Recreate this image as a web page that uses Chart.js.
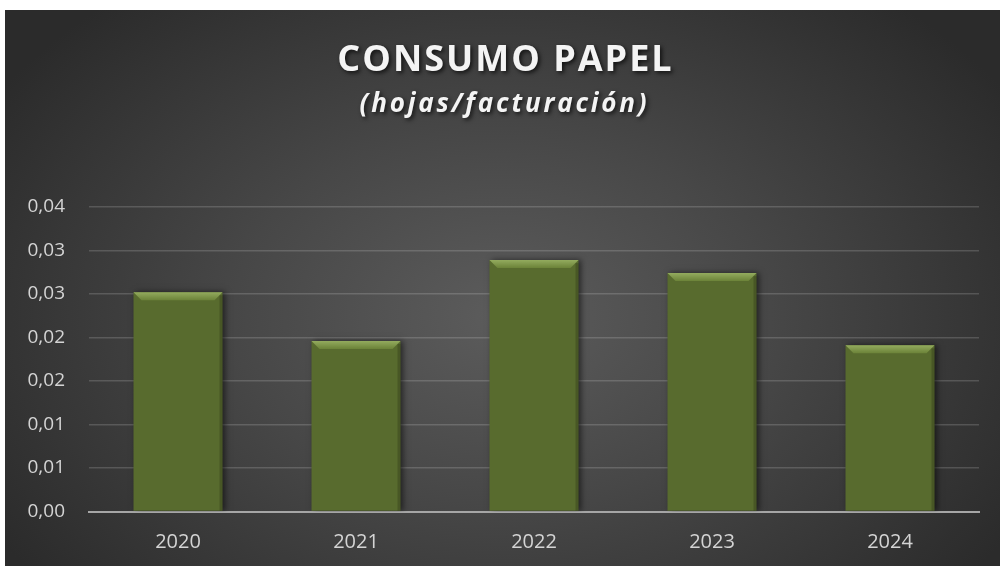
<!DOCTYPE html>
<html>
<head>
<meta charset="utf-8">
<script src="https://cdn.jsdelivr.net/npm/chart.js@4"></script>
<style>
  html, body { margin: 0; padding: 0; background: #fff; }
  #wrap {
    position: absolute; left: 5px; top: 10px; width: 995px; height: 556px;
    background: radial-gradient(ellipse 60% 75% at 50% 55%, #5c5c5c 0%, #474747 45%, #2b2b2b 100%);
  }
</style>
</head>
<body>
<div id="wrap"><canvas id="myChart" width="995" height="556"></canvas></div>
<script>
const years = ['2020', '2021', '2022', '2023', '2024'];
const consumo = [0.0252, 0.0196, 0.0289, 0.0274, 0.0191];
const yTicks = [0, 0.005, 0.01, 0.015, 0.02, 0.025, 0.03, 0.035];
const titleText = 'CONSUMO PAPEL';
const subtitleText = '(hojas/facturación)';

const textColor = '#d4d4d4';
const barColor = '#586b2e';

// Excel-style 2 decimals, half rounds up
function fmt(v) {
    return (Math.round(v * 100 + 1e-9) / 100).toFixed(2).replace('.', ',');
}

// bevel on top of each bar + soft shadow, drawn from the bar elements
const bevel = {
    id: 'bevel',
    beforeDatasetsDraw(chart) {
        const ctx = chart.ctx;
        ctx.save();
        ctx.shadowColor = 'rgba(0,0,0,0.55)';
        ctx.shadowBlur = 6;
        ctx.shadowOffsetX = 2;
    },
    afterDatasetsDraw(chart) {
        const ctx = chart.ctx;
        ctx.restore();
        chart.getDatasetMeta(0).data.forEach(bar => {
            const l = bar.x - bar.width / 2, r = bar.x + bar.width / 2, t = bar.y;
            const d = 8;
            const g = ctx.createLinearGradient(0, t, 0, t + d);
            g.addColorStop(0, '#93ab5e');
            g.addColorStop(1, '#6b8238');
            ctx.fillStyle = g;
            ctx.beginPath();
            ctx.moveTo(l, t);
            ctx.lineTo(r, t);
            ctx.lineTo(r - d, t + d);
            ctx.lineTo(l + d, t + d);
            ctx.closePath();
            ctx.fill();
            ctx.fillStyle = 'rgba(0,0,0,0.18)';
            ctx.fillRect(r - 3, t + 3, 3, bar.base - t - 3);
        });
    }
};

// spaced-out title with drop shadow
const titles = {
    id: 'titles',
    afterDraw(chart) {
        const ctx = chart.ctx;
        const cx = chart.width / 2;
        ctx.save();
        ctx.fillStyle = '#f4f4f4';
        ctx.textAlign = 'center';
        ctx.textBaseline = 'middle';
        ctx.shadowColor = 'rgba(0,0,0,0.7)';
        ctx.shadowBlur = 4;
        ctx.shadowOffsetX = 2;
        ctx.shadowOffsetY = 2;
        ctx.letterSpacing = '2px';
        ctx.font = 'bold 36px "Open Sans"';
        ctx.fillText(titleText, cx + 3, 51);
        ctx.letterSpacing = '2.8px';
        ctx.font = 'italic bold 26px "Open Sans"';
        ctx.fillText(subtitleText, cx + 2, 95);
        ctx.restore();
    }
};

Chart.defaults.font.family = '"Open Sans", sans-serif';

new Chart(document.getElementById('myChart'), {
    type: 'bar',
    data: {
        labels: years,
        datasets: [{
            data: consumo,
            backgroundColor: barColor,
            borderWidth: 0,
            barPercentage: 0.5,
            categoryPercentage: 1
        }]
    },
    options: {
        responsive: false,
        animation: false,
        layout: { padding: { top: 197, left: 0, right: 21, bottom: 0 } },
        plugins: {
            legend: { display: false },
            tooltip: { enabled: false }
        },
        scales: {
            x: {
                afterFit: axis => { axis.height = 54.5; },
                grid: { display: false, drawTicks: false },
                border: { color: '#a6a6a6', width: 2 },
                ticks: { color: textColor, font: { size: 20 }, padding: 19 }
            },
            y: {
                min: 0,
                max: 0.035,
                afterFit: axis => { axis.width = 84; },
                afterBuildTicks: axis => { axis.ticks = yTicks.map(v => ({ value: v })); },
                grid: { color: 'rgba(255,255,255,0.16)', lineWidth: 1.5, drawTicks: false },
                border: { display: false },
                ticks: {
                    color: textColor,
                    font: { size: 19 },
                    padding: 24,
                    callback: v => fmt(v)
                }
            }
        }
    },
    plugins: [bevel, titles]
});
</script>
</body>
</html>
